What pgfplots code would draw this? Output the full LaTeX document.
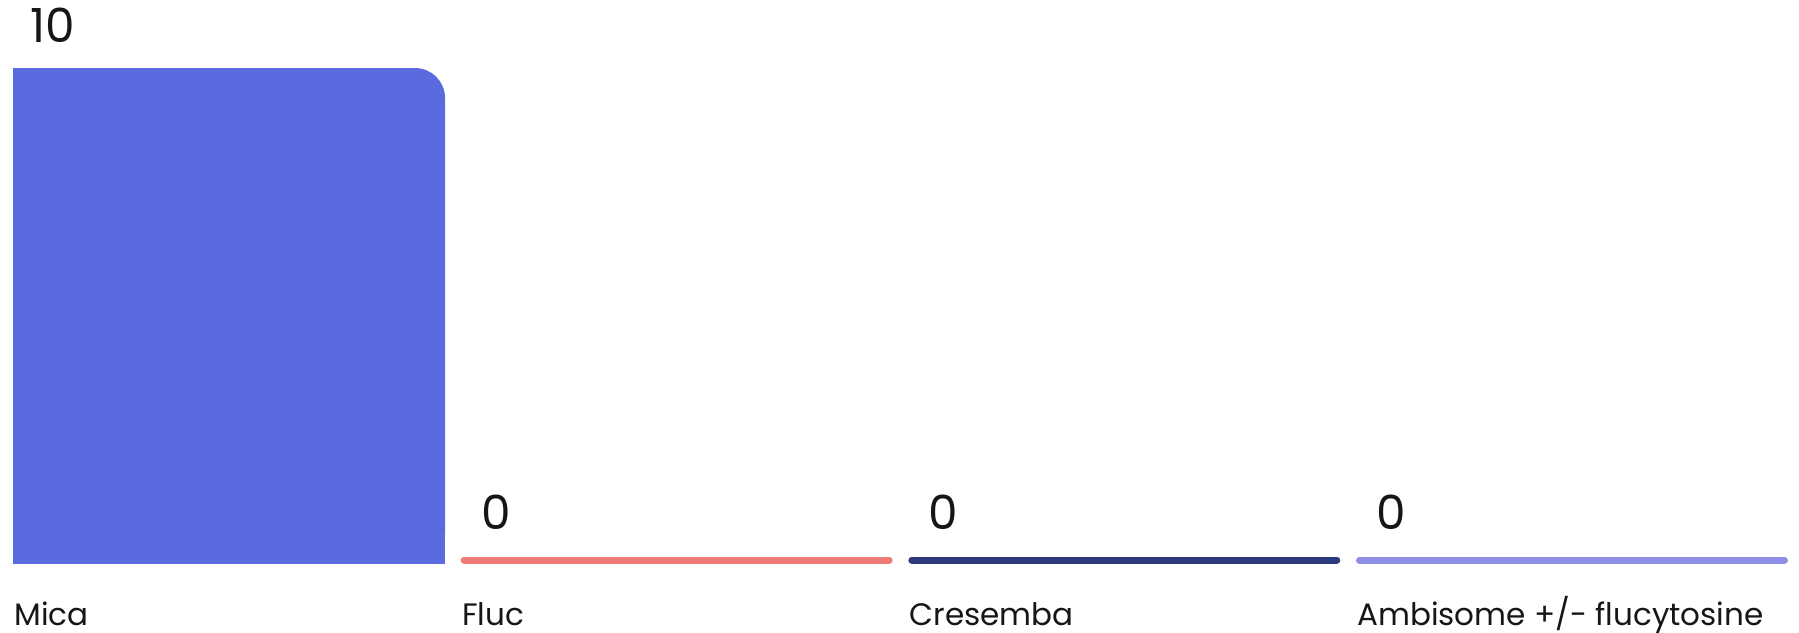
\documentclass[border=0pt]{standalone}
\usepackage{pgfplots}
\pgfplotsset{compat=1.18}
\usepackage{fontspec}
\setmainfont{Poppins}
\definecolor{mica}{HTML}{5A6ADF}
\definecolor{fluc}{HTML}{EE7B77}
\definecolor{cres}{HTML}{2E3A7E}
\definecolor{ambi}{HTML}{8E8FE6}
\definecolor{txt}{HTML}{161616}
\begin{document}
\begin{tikzpicture}
\begin{axis}[
  at={(2.6pt,34.5pt)}, anchor=south west,
  scale only axis, width=895.3pt, height=281.5pt,
  xmin=-0.5, xmax=3.5, ymin=0, ymax=11.374,
  axis line style={draw=none}, tick style={draw=none},
  ytick=\empty, xtick={0,1,2,3},
  xticklabels={Mica,Fluc,Cresemba,Ambisome +/- flucytosine},
  xticklabel style={anchor=base west, inner sep=0pt, xshift=-107.5pt, yshift=-27pt,
    font=\fontsize{15.5}{18}\selectfont, text=txt},
  /pgf/number format/assume math mode=true,
  ybar, bar width=216pt,
  valstyle/.style={nodes near coords, nodes near coords style={anchor=base west, inner sep=0pt,
    xshift=-99.5pt, yshift=#1, font=\fontsize{23.5}{28}\selectfont, text=txt}},
]
% Mica bar (value 10): square-corner fillers, then rounded top-right
\addplot[fill=mica, draw=none, bar shift=-7.5pt, bar width=201pt] coordinates {(0,10)};
\addplot[fill=mica, draw=none, bar shift=0pt, yshift=-15pt] coordinates {(0,10)};
\addplot[fill=mica, draw=none, bar shift=0pt, rounded corners=15pt, valstyle=13pt] coordinates {(0,10)};
% zero-valued bars
\addplot[fill=fluc, draw=fluc, line width=3.5pt, line join=round, line cap=round, bar shift=0pt, bar width=212.5pt, yshift=1.5pt, valstyle=15pt] coordinates {(1,0)};
\addplot[fill=cres, draw=cres, line width=3.5pt, line join=round, line cap=round, bar shift=0pt, bar width=212.5pt, yshift=1.5pt, valstyle=15pt] coordinates {(2,0)};
\addplot[fill=ambi, draw=ambi, line width=3.5pt, line join=round, line cap=round, bar shift=0pt, bar width=212.5pt, yshift=1.5pt, valstyle=15pt] coordinates {(3,0)};
\end{axis}
\pgfresetboundingbox
\path[use as bounding box] (0,0) rectangle (899.5pt,316pt);
\end{tikzpicture}
\end{document}
